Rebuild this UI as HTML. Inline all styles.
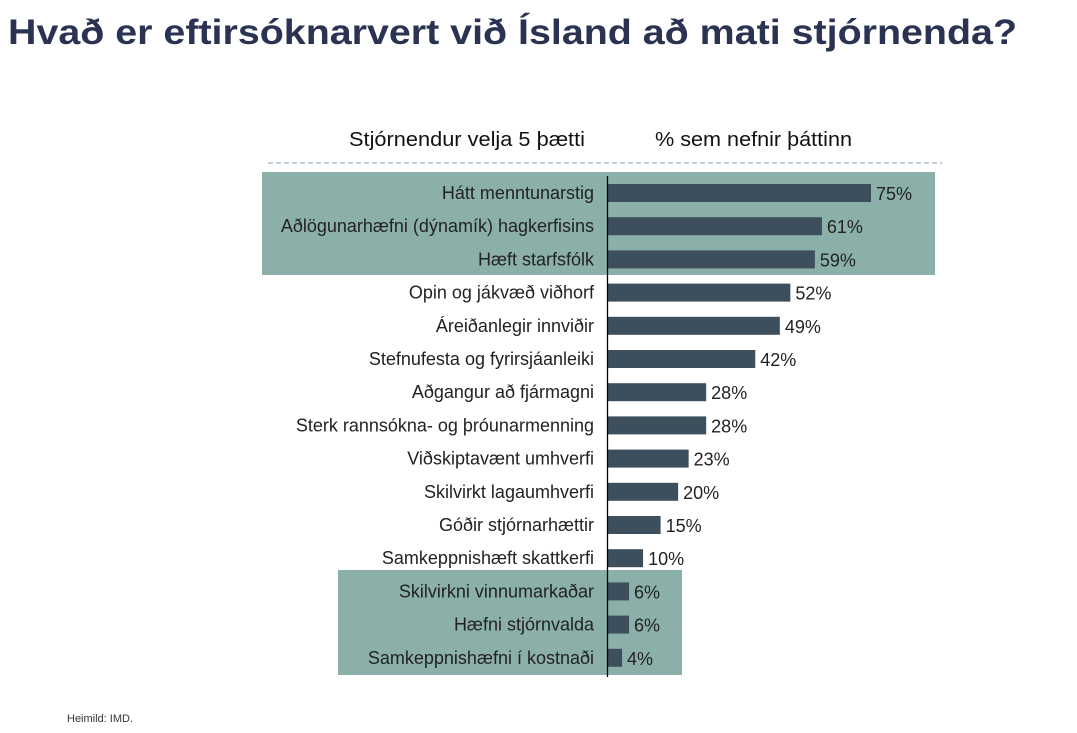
<!DOCTYPE html>
<html><head><meta charset="utf-8"><style>
body{margin:0;background:#fff;width:1077px;height:733px;overflow:hidden;font-family:"Liberation Sans",sans-serif}
</style></head><body>
<svg width="1077" height="733" style="position:absolute;left:0;top:0">
<text x="8" y="44" font-size="35" font-weight="bold" fill="#2a3352" textLength="1009" lengthAdjust="spacingAndGlyphs">Hvað er eftirsóknarvert við Ísland að mati stjórnenda?</text>
<rect x="262" y="172" width="673" height="103" fill="#8bb0a9"/>
<rect x="338" y="570" width="344" height="105" fill="#8bb0a9"/>
<text x="585" y="146" font-size="20" text-anchor="end" fill="#111" textLength="236" lengthAdjust="spacingAndGlyphs">Stjórnendur velja 5 þætti</text>
<text x="655" y="146" font-size="20" fill="#111" textLength="197" lengthAdjust="spacingAndGlyphs">% sem nefnir þáttinn</text>
<line x1="268" y1="163" x2="942" y2="163" stroke="#8a9cb3" stroke-width="1" stroke-dasharray="5,3"/>
<g id="bars"></g>
<line x1="607.5" y1="176" x2="607.5" y2="677" stroke="#000" stroke-width="1.3"/>
<text x="67" y="722" font-size="11" fill="#333">Heimild: IMD.</text>
</svg>
<script>
const categories=["Hátt menntunarstig","Aðlögunarhæfni (dýnamík) hagkerfisins","Hæft starfsfólk","Opin og jákvæð viðhorf","Áreiðanlegir innviðir","Stefnufesta og fyrirsjáanleiki","Aðgangur að fjármagni","Sterk rannsókna- og þróunarmenning","Viðskiptavænt umhverfi","Skilvirkt lagaumhverfi","Góðir stjórnarhættir","Samkeppnishæft skattkerfi","Skilvirkni vinnumarkaðar","Hæfni stjórnvalda","Samkeppnishæfni í kostnaði"];
const values=[75,61,59,52,49,42,28,28,23,20,15,10,6,6,4];
const x0=608,k=263/75,y0=193,step=33.2,bh=18;
const xs=v=>x0+v*k, ys=i=>y0+i*step;
const g=document.getElementById('bars');const NS='http://www.w3.org/2000/svg';
categories.forEach((c,i)=>{
 const y=ys(i);
 const r=document.createElementNS(NS,'rect');
 r.setAttribute('x',x0);r.setAttribute('y',y-bh/2);r.setAttribute('width',xs(values[i])-x0);r.setAttribute('height',bh);r.setAttribute('fill','#3d4f5c');
 
 
 g.appendChild(r);
 const t=document.createElementNS(NS,'text');
 t.setAttribute('x',594);t.setAttribute('y',y+6);t.setAttribute('text-anchor','end');t.setAttribute('font-size','18');t.setAttribute('fill','#222');t.textContent=c;
 
 
 g.appendChild(t);
 const v=document.createElementNS(NS,'text');
 v.setAttribute('x',xs(values[i])+5);v.setAttribute('y',y+7);v.setAttribute('font-size','18');v.setAttribute('fill','#222');v.textContent=values[i]+'%';
 
 
 g.appendChild(v);
});
</script>
</body></html>
